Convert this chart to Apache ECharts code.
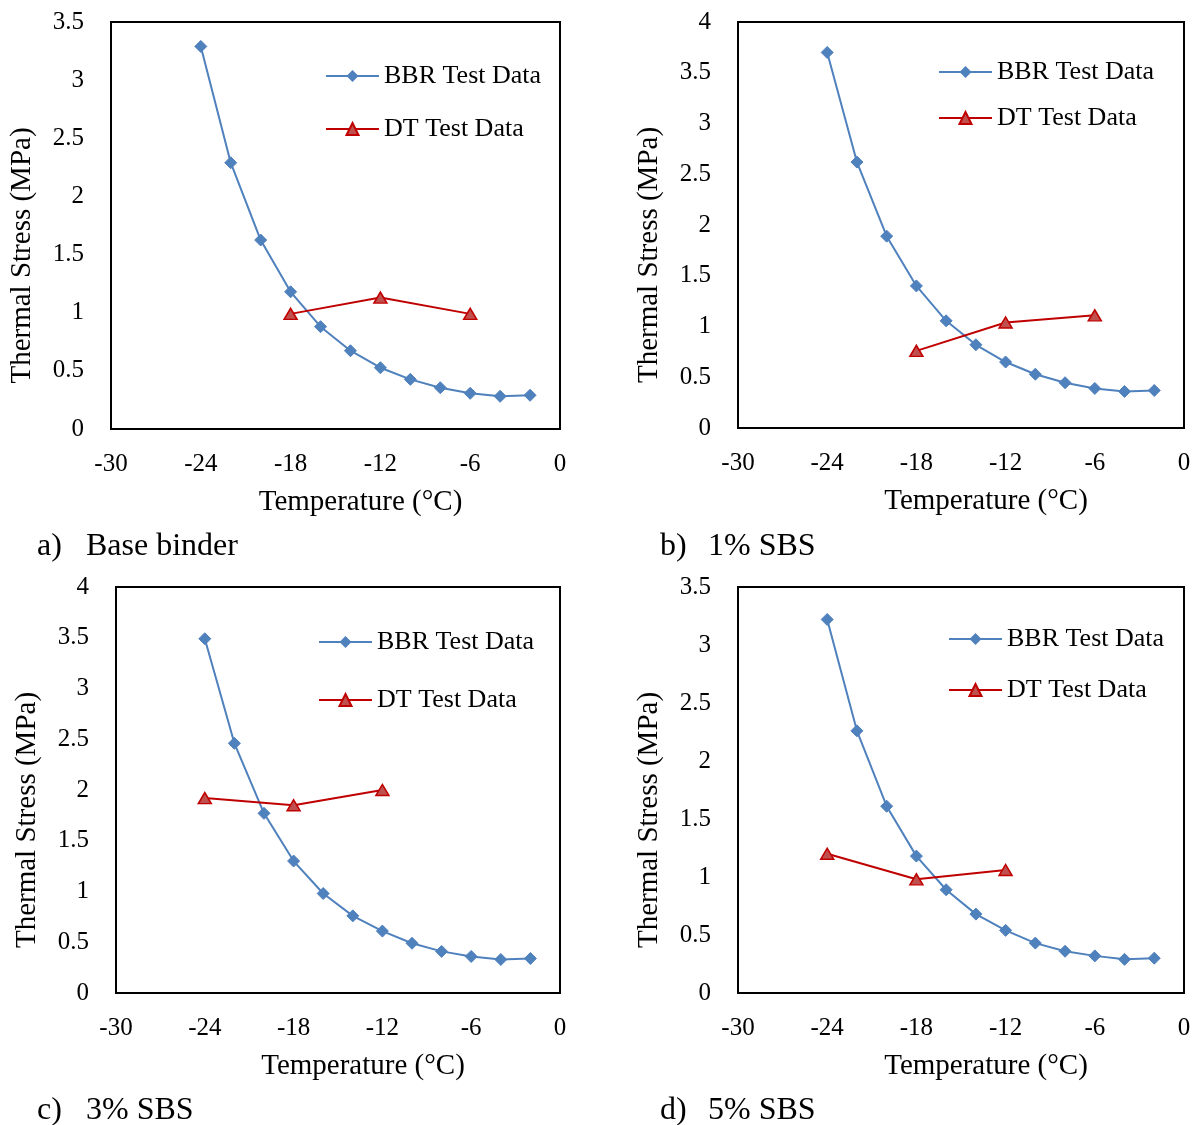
<!DOCTYPE html>
<html>
<head>
<meta charset="utf-8">
<script src="https://cdn.jsdelivr.net/npm/echarts@6/dist/echarts.min.js"></script>
<style>html,body{margin:0;padding:0;background:#fff}#c{width:1197px;height:1125px}</style>
</head>
<body>
<div id="c"></div>
<script>
// ---- data ----
var bbrTemps = [-24, -22, -20, -18, -16, -14, -12, -10, -8, -6, -4, -2];
var bbrA = [3.29, 2.29, 1.625, 1.18, 0.88, 0.673, 0.527, 0.427, 0.355, 0.307, 0.281, 0.29];
var bbrB = [3.70, 2.62, 1.89, 1.40, 1.056, 0.82, 0.65, 0.53, 0.446, 0.39, 0.36, 0.37];
var bbrC = [3.49, 2.46, 1.77, 1.30, 0.98, 0.76, 0.61, 0.49, 0.41, 0.36, 0.33, 0.34];
var bbrD = [3.22, 2.26, 1.61, 1.18, 0.89, 0.68, 0.54, 0.43, 0.36, 0.32, 0.29, 0.30];
var dtTempsA = [-18, -12, -6];
var dtA = [0.99, 1.13, 0.99];
var dtTempsB = [-18, -12, -6];
var dtB = [0.76, 1.04, 1.11];
var dtTempsC = [-24, -18, -12];
var dtC = [1.92, 1.85, 2.00];
var dtTempsD = [-24, -18, -12];
var dtD = [1.20, 0.98, 1.06];
var yMaxes = [3.5, 4, 4, 3.5];
var captionLetters = ['a)', 'b)', 'c)', 'd)'];
var captionTexts = ['Base binder', '1% SBS', '3% SBS', '5% SBS'];
var seriesNames = ['BBR Test Data', 'DT Test Data'];
var xAxisName = 'Temperature (°C)';
var yAxisName = 'Thermal Stress (MPa)';

// ---- layout ----
var FONT = '"Liberation Serif", "Times New Roman", serif';
var grids = [
  {left: 111, top: 22, width: 449, height: 407},
  {left: 738, top: 22, width: 446, height: 406},
  {left: 116, top: 587, width: 444, height: 406},
  {left: 738, top: 587, width: 446, height: 406}
];
var legendPos = [
  {left: 325, top: 63, itemGap: 27},
  {left: 938, top: 59, itemGap: 20},
  {left: 318, top: 629, itemGap: 32},
  {left: 948, top: 626, itemGap: 25}
];
var captionPos = [
  {x1: 37, x2: 86, y: 547},
  {x1: 660, x2: 708, y: 547},
  {x1: 37, x2: 86, y: 1111},
  {x1: 660, x2: 708, y: 1111}
];

function pairs(xs, ys) { return xs.map(function (x, i) { return [x, ys[i]]; }); }
var bbrSets = [bbrA, bbrB, bbrC, bbrD];
var dtSets = [pairs(dtTempsA, dtA), pairs(dtTempsB, dtB), pairs(dtTempsC, dtC), pairs(dtTempsD, dtD)];

var option = {
  backgroundColor: '#fff',
  animation: false,
  textStyle: {fontFamily: FONT, color: '#000'},
  grid: [], xAxis: [], yAxis: [], series: [], legend: [], graphic: []
};

for (var i = 0; i < 4; i++) {
  var g = grids[i];
  option.grid.push({left: g.left, top: g.top, width: g.width, height: g.height,
    show: true, borderColor: '#000', borderWidth: 2, containLabel: false});
  option.xAxis.push({
    type: 'value', gridIndex: i, min: -30, max: 0, interval: 6,
    name: xAxisName, nameLocation: 'middle', nameGap: 59,
    nameTextStyle: {fontFamily: FONT, fontSize: 29, color: '#000', padding: [0, 0, 0, 50]},
    axisLine: {show: true, lineStyle: {color: '#000', width: 2}},
    axisTick: {show: false}, splitLine: {show: false},
    axisLabel: {fontFamily: FONT, fontSize: 25, color: '#000', margin: 23}
  });
  option.yAxis.push({
    type: 'value', gridIndex: i, min: 0, max: yMaxes[i], interval: 0.5,
    name: yAxisName, nameLocation: 'middle', nameGap: 74, nameRotate: 90,
    nameTextStyle: {fontFamily: FONT, fontSize: 29, color: '#000', padding: [0, 60, 0, 0]},
    axisLine: {show: true, lineStyle: {color: '#000', width: 2}},
    axisTick: {show: false}, splitLine: {show: false},
    axisLabel: {fontFamily: FONT, fontSize: 25, color: '#000', margin: 27}
  });
  option.series.push({
    name: seriesNames[0], type: 'line', xAxisIndex: i, yAxisIndex: i,
    data: pairs(bbrTemps, bbrSets[i]),
    symbol: 'diamond', symbolSize: 12,
    lineStyle: {color: '#4F81BD', width: 2},
    itemStyle: {color: '#4F81BD', borderColor: '#4F81BD'}
  });
  option.series.push({
    name: seriesNames[1], type: 'line', xAxisIndex: i, yAxisIndex: i,
    data: dtSets[i],
    symbol: 'triangle', symbolSize: [13, 11],
    lineStyle: {color: '#C00000', width: 2},
    itemStyle: {color: '#C0504D', borderColor: '#C00000', borderWidth: 1.5}
  });
  var lp = legendPos[i];
  option.legend.push({
    orient: 'vertical', left: lp.left, top: lp.top, itemGap: lp.itemGap,
    itemWidth: 53, itemHeight: 15, padding: 0,
    data: seriesNames, selectedMode: false,
    textStyle: {fontFamily: FONT, fontSize: 26, color: '#000'}
  });
  var cp = captionPos[i];
  option.graphic.push({type: 'text', left: cp.x1, top: cp.y - 16,
    style: {text: captionLetters[i], font: '32px ' + FONT, fill: '#000'}});
  option.graphic.push({type: 'text', left: cp.x2, top: cp.y - 16,
    style: {text: captionTexts[i], font: '32px ' + FONT, fill: '#000'}});
}

var chart = echarts.init(document.getElementById('c'), null, {renderer: 'canvas'});
chart.setOption(option);
</script>
</body>
</html>
